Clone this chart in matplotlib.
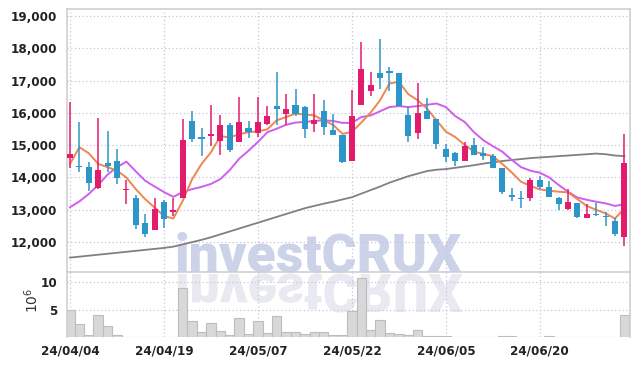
import numpy as np
import matplotlib
matplotlib.use("Agg")
import matplotlib.pyplot as plt
from matplotlib import font_manager
from matplotlib.textpath import TextPath
from matplotlib.patches import PathPatch
from matplotlib.font_manager import FontProperties
from matplotlib.transforms import Affine2D

# trading days (yy/mm/dd)
dates = ["24/04/04", "24/04/05", "24/04/08", "24/04/09", "24/04/11", "24/04/12", "24/04/15", "24/04/16", "24/04/17", "24/04/18",
         "24/04/19", "24/04/22", "24/04/23", "24/04/24", "24/04/25", "24/04/26", "24/04/29", "24/04/30", "24/05/02", "24/05/03",
         "24/05/07", "24/05/08", "24/05/09", "24/05/10", "24/05/13", "24/05/14", "24/05/16", "24/05/17", "24/05/20", "24/05/21",
         "24/05/22", "24/05/23", "24/05/24", "24/05/27", "24/05/28", "24/05/29", "24/05/30", "24/05/31", "24/06/03", "24/06/04",
         "24/06/05", "24/06/07", "24/06/10", "24/06/11", "24/06/12", "24/06/13", "24/06/14", "24/06/17", "24/06/18", "24/06/19",
         "24/06/20", "24/06/21", "24/06/24", "24/06/25", "24/06/26", "24/06/27", "24/06/28", "24/07/01", "24/07/02", "24/07/03"]

open_ = [14600, 14370, 14340, 13690, 14440, 14500, 13610, 13350, 12600, 12370,
         13250, 12940, 13350, 15760, 15220, 15290, 15130, 15610, 15110, 15520,
         15390, 15665, 16200, 15980, 16235, 16170, 15665, 16070, 15480, 15320,
         14500, 16256, 16690, 17220, 17260, 17220, 15920, 15385, 16050, 15800,
         14890, 14750, 14500, 15020, 14750, 14680, 14290, 13450, 13370, 13350,
         13930, 13710, 13370, 13010, 13200, 12760, 12850, 12810, 12650, 12170]
high = [16350, 15720, 14470, 15840, 15430, 14890, 13920, 13450, 12860, 13380,
        13300, 13380, 15820, 16050, 15530, 16230, 15920, 15700, 16490, 15760,
        16480, 16200, 17270, 16590, 16750, 16200, 16570, 16400, 15955, 15330,
        16720, 18190, 17270, 18280, 17430, 17240, 16180, 16910, 16460, 15800,
        15040, 14800, 15090, 15220, 14940, 14730, 14300, 13690, 13590, 13970,
        14060, 13900, 13400, 13640, 13200, 13170, 13200, 12940, 12760, 15350]
low = [14300, 14180, 13570, 13640, 14160, 13790, 13170, 12400, 12170, 12370,
       12430, 12800, 13350, 15110, 14650, 14990, 14710, 14800, 15090, 15210,
       15240, 15610, 15610, 15610, 15900, 15230, 15400, 15300, 15300, 14460,
       14500, 16230, 16520, 16730, 16690, 16210, 15090, 15180, 15810, 14890,
       14470, 14370, 14500, 14690, 14550, 14290, 13480, 13260, 13050, 13260,
       13640, 13410, 13000, 13000, 12760, 12750, 12800, 12500, 12200, 11880]
close = [14730, 14320, 13820, 14240, 14370, 13970, 13650, 12530, 12260, 13030,
         12710, 12980, 15150, 15200, 15200, 15330, 15610, 14860, 15710, 15400,
         15710, 15890, 16120, 16130, 15976, 15510, 15790, 15560, 15320, 14470,
         15900, 17356, 16860, 17090, 17240, 16215, 15280, 16010, 15820, 15040,
         14630, 14500, 14990, 14700, 14680, 14290, 13540, 13410, 13330, 13930,
         13710, 13410, 13170, 13250, 12780, 12860, 12830, 12770, 12240, 14440]

# moving averages
ma_short = [14420, 14940, 14750, 14420, 14320, 14210, 14000, 13640, 13330, 13070,
            12810, 12730, 13280, 13950, 14420, 14780, 15280, 15240, 15340, 15400,
            15430, 15490, 15770, 15870, 15980, 15950, 15920, 15770, 15630, 15350,
            15410, 15700, 16010, 16390, 16910, 16960, 16580, 16390, 16130, 15770,
            15420, 15250, 15010, 14800, 14730, 14660, 14420, 14160, 13870, 13740,
            13630, 13590, 13560, 13540, 13330, 13120, 13000, 12890, 12730, 13040]
ma_mid = [13080, 13260, 13490, 13770, 14090, 14320, 14490, 14190, 13900, 13720,
          13550, 13400, 13550, 13640, 13710, 13800, 13950, 14230, 14580, 14830,
          15100, 15400, 15510, 15630, 15700, 15720, 15750, 15770, 15750, 15690,
          15690, 15870, 15920, 16050, 16180, 16210, 16180, 16210, 16250, 16290,
          16180, 15900, 15720, 15400, 15150, 14970, 14800, 14550, 14320, 14210,
          14150, 14000, 13770, 13560, 13380, 13310, 13250, 13200, 13120, 13170]
ma_long = [11520, 11550, 11580, 11610, 11640, 11670, 11700, 11730, 11760, 11790,
           11820, 11860, 11930, 12000, 12070, 12150, 12240, 12330, 12420, 12510,
           12600, 12690, 12780, 12870, 12960, 13050, 13120, 13190, 13250, 13320,
           13390, 13500, 13610, 13720, 13840, 13940, 14040, 14120, 14200, 14240,
           14260, 14300, 14340, 14380, 14430, 14470, 14510, 14540, 14570, 14600,
           14620, 14640, 14660, 14680, 14700, 14720, 14740, 14720, 14680, 14660]

# volume in millions of shares
volume = [4.9, 2.4, 0.4, 4.0, 2.1, 0.4, 0.1, 0.1, 0.1, 0.1,
          0.1, 0.1, 9.0, 3.0, 0.9, 2.6, 1.1, 0.35, 3.5, 0.55,
          3.0, 0.8, 3.8, 1.0, 1.0, 0.55, 1.0, 1.0, 0.35, 0.35,
          4.8, 10.8, 1.3, 3.1, 0.8, 0.6, 0.35, 1.3, 0.3, 0.2,
          0.2, 0.1, 0.1, 0.1, 0.1, 0.1, 0.2, 0.2, 0.1, 0.1,
          0.1, 0.2, 0.1, 0.1, 0.1, 0.1, 0.1, 0.1, 0.1, 4.0]

price_ticks = [12000, 13000, 14000, 15000, 16000, 17000, 18000, 19000]
vol_ticks = [5, 10]

UP = "#e31b6d"
DOWN = "#2d96c8"
GRID = "#c3c7dc"
SPINE = "#cfcfcf"
TXT = "#222222"


def weight_of(f):
    if isinstance(f.weight, int):
        return f.weight
    return {"bold": 700, "semibold": 600, "demibold": 600, "heavy": 800, "black": 900}.get(str(f.weight).lower(), 400)


def find_font(pred):
    for f in font_manager.fontManager.ttflist:
        if pred(f):
            return f.fname
    return None


def narrow(f):
    return ("Narrow" in f.name or "Condensed" in f.name or "Condensed" in f.fname
            or "Narrow" in f.fname or f.stretch in ("condensed", "semi-condensed"))


# bold condensed face for tick labels
tick_file = find_font(lambda f: narrow(f) and 600 <= weight_of(f) <= 800 and f.style == "normal")
if tick_file:
    tick_fp = FontProperties(fname=tick_file, size=9.5)
else:
    tick_fp = FontProperties(family="DejaVu Sans", weight="bold", size=8.5)

# bold face for the watermark
wm_file = None
for fam in ["Roboto", "Lato", "Noto Sans", "Open Sans", "DejaVu Sans"]:
    wm_file = find_font(lambda f: f.name == fam and 700 <= weight_of(f) <= 900
                        and f.style == "normal" and not narrow(f))
    if wm_file:
        break
wm_fp = FontProperties(fname=wm_file) if wm_file else FontProperties(family="DejaVu Sans", weight="bold")

W, H = 639, 366
fig = plt.figure(figsize=(W / 100, H / 100), dpi=100)
ax = fig.add_axes([67 / W, 1 - 272 / H, 563 / W, 263 / H])
axv = fig.add_axes([67 / W, 1 - 337.3 / H, 563 / W, 65.3 / H], sharex=ax)
for a in (ax, axv):
    a.set_facecolor("none")

x = np.arange(len(dates))
o = np.array(open_)
c = np.array(close)
colors = [UP if cc >= oo else DOWN for oo, cc in zip(o, c)]

# moving averages
ax.plot(x, ma_long, color="#808080", lw=1.3, zorder=2)
ax.plot(x, ma_mid, color="#cf5eec", lw=1.4, zorder=2)
ax.plot(x, ma_short, color="#ef8650", lw=1.4, zorder=2)

# candles
ax.vlines(x, low, high, colors=colors, lw=1.1, zorder=3)
body_bot = np.minimum(o, c)
body_h = np.maximum(np.abs(c - o), 45)
ax.bar(x, body_h, bottom=body_bot, width=0.65, color=colors, zorder=4)

ax.set_xlim(-0.32, 59.6)
ax.set_ylim(11075, 19215)
ax.set_yticks(price_ticks)
ax.set_yticklabels([f"{t:,}" for t in price_ticks])
ax.set_xticks(x[::10])
ax.tick_params(axis="x", labelbottom=False, length=0)
ax.tick_params(axis="y", length=0, pad=7, labelcolor=TXT)
for lab in ax.get_yticklabels():
    lab.set_fontproperties(tick_fp)
ax.grid(True, color=GRID, linestyle=(0, (1, 2)), lw=0.9, zorder=0)
for s in ax.spines.values():
    s.set_color(SPINE)
    s.set_linewidth(1.2)

# volume
axv.bar(x, volume, width=1.0, color="#d8d8d8", edgecolor="#bdbdbd", lw=0.8, zorder=2)
axv.set_ylim(0, 11.9)
axv.set_yticks(vol_ticks)
axv.set_xticks(x[::10])
axv.set_xticklabels(dates[::10])
axv.tick_params(length=0, labelcolor=TXT)
axv.tick_params(axis="y", pad=7)
axv.tick_params(axis="x", pad=5)
for lab in axv.get_xticklabels() + axv.get_yticklabels():
    lab.set_fontproperties(tick_fp)
axv.grid(True, color=GRID, linestyle=(0, (1, 2)), lw=0.9, zorder=0)
for s in axv.spines.values():
    s.set_color(SPINE)
    s.set_linewidth(1.2)
axv.spines["top"].set_visible(False)
axv.spines["bottom"].set_visible(False)
fig.text(32 / W, 1 - 300 / H, r"$10^6$", rotation=90, ha="center", va="center",
         fontsize=10, color="#333333")

# watermark and its reflection (sized to span about 285 px)
probe = TextPath((0, 0), "investCRUX", prop=wm_fp, size=1)
wm_size = 285 / 100 * 72 / probe.get_extents().width
ax.text(175 / W, 1 - 272 / H, "investCRUX", transform=fig.transFigure, fontproperties=wm_fp,
        fontsize=wm_size, color="#ccd2e7", ha="left", va="baseline", zorder=1, clip_on=False)
tp = TextPath((0, 0), "investCRUX", prop=wm_fp, size=wm_size / 72)
tr = Affine2D().scale(1, -1).translate(175 / 100, (H - 274) / 100) + fig.dpi_scale_trans
axv.add_patch(PathPatch(tp, transform=tr, facecolor="#e8e9f1", edgecolor="none", zorder=1,
                        clip_on=False))

fig.savefig("out.png", dpi=100)
